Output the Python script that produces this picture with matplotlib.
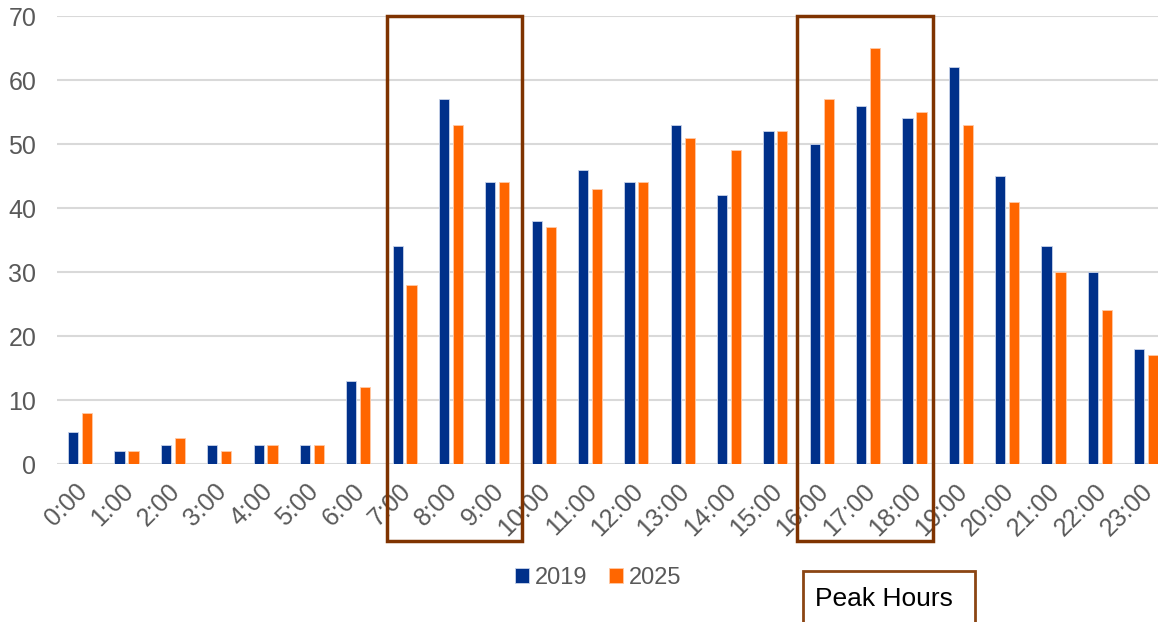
import matplotlib.pyplot as plt
from matplotlib.patches import Rectangle
from matplotlib.transforms import blended_transform_factory, ScaledTranslation
import numpy as np

hours = [f'{h}:00' for h in range(24)]
v2019 = [5, 2, 3, 3, 3, 3, 13, 34, 57, 44, 38, 46, 44, 53, 42, 52, 50, 56, 54, 62, 45, 34, 30, 18]
v2025 = [8, 2, 4, 2, 3, 3, 12, 28, 53, 44, 37, 43, 44, 51, 49, 52, 57, 65, 55, 53, 41, 30, 24, 17]
# peak hour boxes, in category units (as drawn in the original)
peak_boxes = [(6.62, 9.54), (15.47, 18.40)]

plt.rcParams['font.family'] = ['Liberation Sans', 'DejaVu Sans']

W, H = 1158, 622
fig = plt.figure(figsize=(W / 100, H / 100), dpi=100)
ax = fig.add_axes([57 / W, 1 - 464 / H, 1112.4 / W, 448 / H])

x = np.arange(len(hours))
bw = 0.22
ax.bar(x - 0.15, v2019, bw, color='#00308A', edgecolor='#c9d3ea', linewidth=0.6, label='2019', zorder=3)
ax.bar(x + 0.15, v2025, bw, color='#FF6600', edgecolor='#ffc9a6', linewidth=0.6, label='2025', zorder=3)

ax.set_xlim(-0.5, len(hours) - 0.5)
ax.set_ylim(0, 70)
ax.set_yticks(range(0, 71, 10))
ax.grid(axis='y', color='#D9D9D9', linewidth=1.5, zorder=0)
for s in ax.spines.values():
    s.set_visible(False)
ax.tick_params(length=0, labelsize=18, labelcolor='#595959')
ax.tick_params(axis='y', pad=15)
ax.tick_params(axis='x', pad=17)
ax.set_xticks(x)
ax.set_xticklabels(hours, rotation=45, ha='right', va='center', rotation_mode='anchor')
shift = ScaledTranslation(3 / 100, 0, fig.dpi_scale_trans)
for lbl in ax.get_xticklabels():
    lbl.set_transform(lbl.get_transform() + shift)

# peak hour boxes (x in data units, y in figure units)
bt = blended_transform_factory(ax.transData, fig.transFigure)
for a, b in peak_boxes:
    r = Rectangle((a, 1 - 541 / H), b - a, 525 / H, transform=bt,
                  fill=False, edgecolor='#7F3300', linewidth=2.5, clip_on=False, zorder=5)
    fig.add_artist(r)

fig.add_artist(Rectangle((803 / W, -0.02), 172 / W, (1 - 571 / H) + 0.02, transform=fig.transFigure,
                         fill=False, edgecolor='#8B4513', linewidth=2))
fig.text(815 / W, 1 - 599 / H, 'Peak Hours', fontsize=19, color='black', va='center', ha='left')

leg = fig.legend(loc='center', bbox_to_anchor=(598 / W, 1 - 578 / H), ncol=2, frameon=False,
                 fontsize=17, handlelength=0.6, handleheight=0.6, handletextpad=0.25, columnspacing=0.9)
for t in leg.get_texts():
    t.set_color('#595959')

fig.savefig('out.png', dpi=100)
